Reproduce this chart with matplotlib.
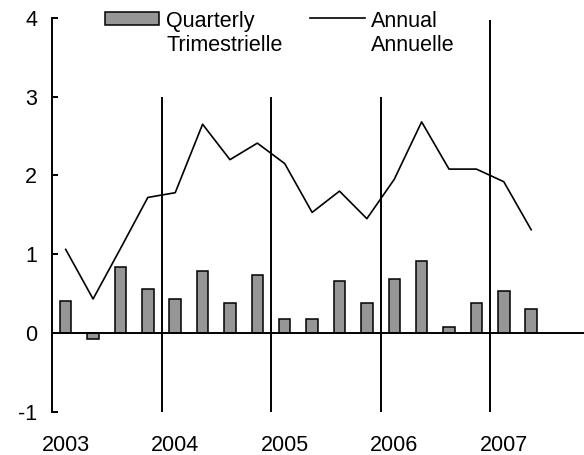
import matplotlib.pyplot as plt
from matplotlib.patches import Rectangle
from matplotlib.lines import Line2D

plt.rcParams['font.family'] = ['Liberation Sans', 'DejaVu Sans']

# --- DATA ---
quarters = ["2003Q1", "2003Q2", "2003Q3", "2003Q4",
            "2004Q1", "2004Q2", "2004Q3", "2004Q4",
            "2005Q1", "2005Q2", "2005Q3", "2005Q4",
            "2006Q1", "2006Q2", "2006Q3", "2006Q4",
            "2007Q1", "2007Q2"]
quarterly = [0.40, -0.08, 0.84, 0.56, 0.43, 0.79, 0.38, 0.73, 0.175,
             0.175, 0.66, 0.38, 0.68, 0.91, 0.08, 0.38, 0.535, 0.30]
annual = [1.06, 0.43, 1.07, 1.72, 1.78, 2.65, 2.20, 2.41, 2.15,
          1.53, 1.80, 1.45, 1.95, 2.68, 2.08, 2.08, 1.92, 1.31]
year_labels = ["2003", "2004", "2005", "2006", "2007"]
divider_tops = [3, 3, 3, 3.97]

FS = 15.5
W, H = 584, 455

fig = plt.figure(figsize=(W / 100, H / 100), dpi=100)
ax = fig.add_axes([52 / W, 1 - 411.5 / H, 1 - 52 / W, (411.5 - 18) / H])

x = list(range(len(quarters)))
ax.bar(x, quarterly, width=0.42, color='#969696', edgecolor='black', linewidth=1.1, zorder=2)
ax.plot(x, annual, color='black', linewidth=1.2, zorder=3)
ax.axhline(0, color='black', linewidth=1.4, zorder=4)

# year dividers between Q4 and Q1
div_x = [4 * (i + 1) - 0.5 for i in range(len(divider_tops))]
for dx, top in zip(div_x, divider_tops):
    ax.vlines(dx, -1, top, color='black', linewidth=1.4, zorder=4)

ax.set_xlim(-0.5, -0.5 + (W - 52) / 27.38)
ax.set_ylim(-1, 4)
ax.set_yticks([-1, 0, 1, 2, 3, 4])
ax.set_yticklabels(["-1", "0", "1", "2", "3", "4"])
ax.set_xticks([4 * i for i in range(len(year_labels))])
ax.set_xticklabels(year_labels)

for s in ['top', 'right', 'bottom']:
    ax.spines[s].set_visible(False)
ax.spines['left'].set_linewidth(1.4)
ax.tick_params(axis='y', direction='in', length=4.5, width=1.4, pad=10.8, labelsize=FS)
ax.tick_params(axis='x', length=0, pad=17, labelsize=FS)

# --- legend (two-line labels, handle level with first line) ---
def fx(px):
    return px / W

def fy(py):
    return 1 - py / H

fig.patches.append(Rectangle((fx(105), fy(25)), fx(159) - fx(105), fy(12.3) - fy(25),
                             transform=fig.transFigure, facecolor='#969696',
                             edgecolor='black', linewidth=1.1))
fig.lines.append(Line2D([fx(310), fx(365)], [fy(18.3), fy(18.3)],
                        transform=fig.transFigure, color='black', linewidth=1.2))
fig.text(fx(166), fy(26.7), "Quarterly", fontsize=FS, va='baseline')
fig.text(fx(166), fy(50.7), "Trimestrielle", fontsize=FS, va='baseline')
fig.text(fx(371), fy(26.7), "Annual", fontsize=FS, va='baseline')
fig.text(fx(371), fy(50.7), "Annuelle", fontsize=FS, va='baseline')

fig.savefig("out.png", dpi=100)
